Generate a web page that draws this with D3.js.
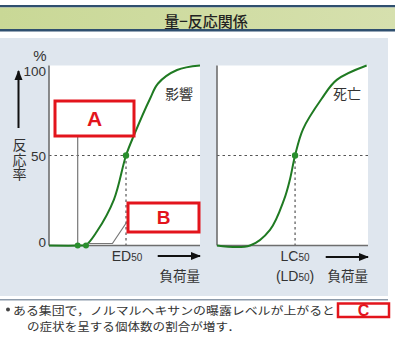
<!DOCTYPE html>
<html><head><meta charset="utf-8">
<script src="https://cdn.jsdelivr.net/npm/d3@7/dist/d3.min.js"></script>
<style>
html,body{margin:0;padding:0;background:#fff;}
svg{display:block;}
.jp{font-family:"Noto Sans CJK JP","Noto Sans",sans-serif;}
.num{font-family:"Liberation Sans Narrow","Liberation Sans",Arial,sans-serif;}
</style></head>
<body>
<script>
// ---- data ----
const title = "量−反応関係";
const yTicks = [0, 50, 100];
const effectDose = [0, 20, 24.5, 31.6, 43, 51, 56.3, 66.9, 72.2, 84.8, 100];
const effectPct  = [0, 0, 0.3, 7.6, 25.5, 50, 61.3, 81.5, 90, 97.5, 100];
const deathDose  = [0, 21.9, 35.1, 44.4, 48.3, 51.7, 57, 69.3, 79.3, 99.1];
const deathPct   = [0, 0, 8.7, 25.5, 36.7, 50, 64.7, 81.5, 92, 100];
const ed50 = 51, lc50 = 51.7;
const markerDoses = [19, 24.5];
const panelNames = ["影響", "死亡"];
const yLabel = "反応率";
const noteLines = ["ある集団で，ノルマルヘキサンの曝露レベルが上がると", "の症状を呈する個体数の割合が増す．"];

const W = 395, H = 353;
const svg = d3.select("body").append("svg").attr("width", W).attr("height", H);

// header bar
svg.append("rect").attr("x",0).attr("y",5).attr("width",W).attr("height",2.5).attr("fill","#2f4f6f");
const grad = svg.append("defs").append("linearGradient").attr("id","g1");
grad.append("stop").attr("offset","0").attr("stop-color","#c9d896");
grad.append("stop").attr("offset","1").attr("stop-color","#d6e0ae");
svg.append("rect").attr("x",0).attr("y",7.5).attr("width",W).attr("height",21.5).attr("fill","url(#g1)");
svg.append("rect").attr("x",0).attr("y",29).attr("width",W).attr("height",2.5).attr("fill","#2f4f6f");
svg.append("text").attr("class","jp").attr("x",206).attr("y",20).attr("text-anchor","middle")
  .attr("dominant-baseline","central").attr("font-size",15).attr("font-weight",500).attr("fill","#222").text(title);

// panel background
svg.append("rect").attr("x",0).attr("y",38).attr("width",388).attr("height",258).attr("fill","#dfe6ee");
svg.append("rect").attr("x",0).attr("y",299).attr("width",388).attr("height",1.5).attr("fill","#8d9bab");

const y = d3.scaleLinear().domain([0,100]).range([245.5, 65.5]);
const xL = d3.scaleLinear().domain([0,100]).range([49, 200]);
const xR = d3.scaleLinear().domain([0,100]).range([217, 368]);

function drawPanel(x, dose, pct, x50, name) {
  const g = svg.append("g");
  g.append("rect").attr("x", x(0)).attr("y", y(100)).attr("width", x(100)-x(0)).attr("height", y(0)-y(100)).attr("fill","#fff");
  g.append("line").attr("x1",x(0)).attr("x2",x(100)).attr("y1",y(50)).attr("y2",y(50))
    .attr("stroke","#555").attr("stroke-width",1.2).attr("stroke-dasharray","2.5,3");
  g.append("line").attr("x1",x(x50)).attr("x2",x(x50)).attr("y1",y(50)).attr("y2",y(0))
    .attr("stroke","#555").attr("stroke-width",1.2).attr("stroke-dasharray","2.5,3");
  g.append("line").attr("x1",x(0)).attr("x2",x(0)).attr("y1",y(100)).attr("y2",y(0)).attr("stroke","#6e6e6e").attr("stroke-width",1.6);
  g.append("line").attr("x1",x(0)).attr("x2",x(100)).attr("y1",y(0)).attr("y2",y(0)).attr("stroke","#6e6e6e").attr("stroke-width",1.6);
  const data = dose.map((d,i)=>[d,pct[i]]);
  const line = d3.line().x(d=>x(d[0])).y(d=>y(d[1])).curve(d3.curveCatmullRom.alpha(0.5));
  g.append("path").attr("d", line(data)).attr("fill","none").attr("stroke","#1f7a22").attr("stroke-width",2);
  g.append("circle").attr("cx",x(x50)).attr("cy",y(50)).attr("r",3.2).attr("fill","#2a8f2e");
  g.append("text").attr("class","jp").attr("x", x(100)-7).attr("y",93).attr("text-anchor","end")
    .attr("dominant-baseline","central").attr("font-size",14).attr("fill","#333").text(name);
  return g;
}
drawPanel(xL, effectDose, effectPct, ed50, panelNames[0]);
drawPanel(xR, deathDose, deathPct, lc50, panelNames[1]);

// y axis ticks
const yAxis = d3.axisLeft(y).tickValues(yTicks).tickSize(0).tickPadding(3);
const ya = svg.append("g").attr("transform",`translate(${xL(0)},0)`).call(yAxis);
ya.select(".domain").remove();
const tickShift = {0:-4, 50:0.5, 100:5.5};
ya.selectAll(".tick text").attr("font-size",13.5).attr("fill","#333")
  .attr("dy", d => (tickShift[d]+4.5) + "px").attr("font-family","Liberation Sans Narrow, Liberation Sans, Arial");
svg.append("text").attr("class","num").attr("x",40).attr("y",55).attr("text-anchor","middle")
  .attr("dominant-baseline","central").attr("font-size",15).attr("fill","#333").text("%");

// arrow defs
const defs = svg.select("defs");
defs.append("marker").attr("id","ah").attr("viewBox","0 0 10 10").attr("refX",9).attr("refY",5)
  .attr("markerWidth",10).attr("markerHeight",10).attr("markerUnits","userSpaceOnUse").attr("orient","auto")
  .append("path").attr("d","M0,1 L10,5 L0,9 Z").attr("fill","#111");
svg.append("line").attr("x1",18.5).attr("x2",18.5).attr("y1",128).attr("y2",71).attr("stroke","#111").attr("stroke-width",2).attr("marker-end","url(#ah)");
svg.append("text").attr("class","jp").attr("x",19.5).attr("y",138)
  .attr("style","writing-mode: vertical-rl; text-orientation: upright;")
  .attr("font-size",14).attr("letter-spacing","0.5").attr("fill","#333").text(yLabel);

// x labels
function sub(xc, yb, main, s, pre, post) {
  const t = svg.append("text").attr("class","num").attr("x",xc).attr("y",yb).attr("text-anchor","middle").attr("fill","#333").attr("font-size",14);
  if (pre) t.append("tspan").text(pre);
  t.append("tspan").text(main);
  t.append("tspan").attr("font-size",10).text(s);
  if (post) t.append("tspan").text(post);
}
sub(xL(ed50)+1, 261, "ED", "50");
sub(xR(lc50), 261, "LC", "50");
sub(xR(lc50), 281, "LD", "50", "(", ")");
[[xL, 256],[xR, 257]].forEach(([x, ay])=>{
  svg.append("line").attr("x1",x(72)).attr("x2",x(100)).attr("y1",ay).attr("y2",ay)
    .attr("stroke","#111").attr("stroke-width",1.8).attr("marker-end","url(#ah)");
  svg.append("text").attr("class","jp").attr("x",x(100)).attr("y",275).attr("text-anchor","end")
    .attr("dominant-baseline","central").attr("font-size",13.5).attr("fill","#333").text("負荷量");
});

// annotation leader lines
svg.append("line").attr("x1",xL(markerDoses[0])).attr("x2",xL(markerDoses[0])).attr("y1",136).attr("y2",y(0))
  .attr("stroke","#777").attr("stroke-width",1.2);
svg.append("polyline").attr("points",`${xL(markerDoses[1])},${y(0)-2} ${xL(42)},${y(0)-2} ${xL(52)},221`)
  .attr("fill","none").attr("stroke","#777").attr("stroke-width",1.2);
markerDoses.forEach(d=>{
  svg.append("circle").attr("cx",xL(d)).attr("cy",y(0)).attr("r",3).attr("fill","#2a8f2e");
});

// red boxes
function redBox(x0,y0,w,h,label,fs,sw){
  svg.append("rect").attr("x",x0).attr("y",y0).attr("width",w).attr("height",h).attr("fill","#fff")
    .attr("stroke","#e3141c").attr("stroke-width",sw);
  svg.append("text").attr("x",x0+w/2).attr("y",y0+h/2).attr("text-anchor","middle").attr("dominant-baseline","central")
    .attr("font-family","Liberation Sans, Arial, sans-serif").attr("font-weight","bold").attr("font-size",fs)
    .attr("fill","#e3141c").text(label);
}
redBox(55,101,79,35,"A",21,3);
redBox(128,203,71,29,"B",19,3);

// note
svg.append("circle").attr("cx",8).attr("cy",309.5).attr("r",2).attr("fill","#444");
const note = svg.append("g").attr("class","jp").attr("font-size",11).attr("fill","#333");
note.append("text").attr("x",13).attr("y",309.5).attr("dominant-baseline","central")
  .attr("textLength",322).attr("lengthAdjust","spacingAndGlyphs").text(noteLines[0]);
note.append("text").attr("x",27).attr("y",325.5).attr("dominant-baseline","central")
  .attr("textLength",213).attr("lengthAdjust","spacingAndGlyphs").text(noteLines[1]);
redBox(338,303.5,51,13.5,"C",16,2.5);
</script>
</body></html>
